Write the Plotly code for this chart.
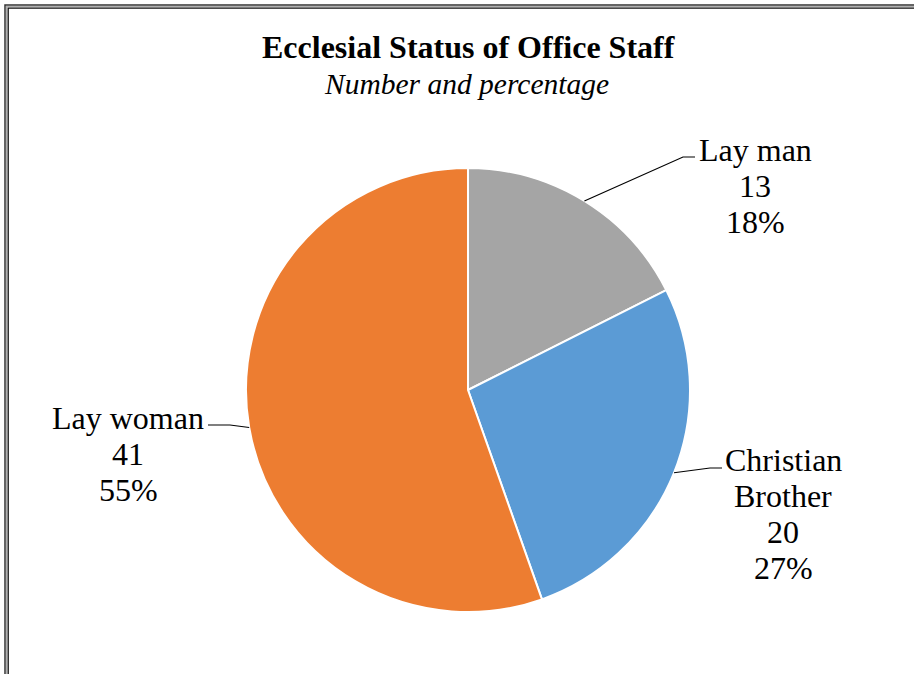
import math
import plotly.graph_objects as go

# ---- data ----
categories = ["Lay man", "Christian Brother", "Lay woman"]
counts = [13, 20, 41]
colors = ["#A5A5A5", "#5B9BD5", "#ED7D31"]
title_text = "Ecclesial Status of Office Staff"
subtitle_text = "Number and percentage"

W, H = 914, 674
CX, CY, R = 468, 390, 222  # pie centre / radius in pixels


def px(x):
    return x / W


def py(y):
    return 1 - y / H


fig = go.Figure()
fig.add_trace(go.Pie(
    labels=categories,
    values=counts,
    sort=False,
    direction="clockwise",
    rotation=0,
    marker=dict(colors=colors, line=dict(color="white", width=2)),
    textinfo="none",
    hoverinfo="label+value+percent",
    showlegend=False,
    domain=dict(x=[px(CX - R), px(CX + R)], y=[py(CY + R), py(CY - R)]),
))

total = sum(counts)
# label layout: (centre x of text, centre y of first line, elbow point, line end point)
label_layout = {
    "Lay man": dict(tx=755, ty=150, lines=["Lay man"], elbow=(683, 157), end=(695, 157)),
    "Christian Brother": dict(tx=783, ty=460, lines=["Christian", "Brother"], elbow=(710, 468), end=(722, 468)),
    "Lay woman": dict(tx=128, ty=418, lines=["Lay woman"], elbow=(230, 425), end=(208, 425)),
}
LINE_SP = 36
FONT = "Liberation Serif, Times New Roman, serif"

annotations = []
shapes = []
cum = 0
for cat, v in zip(categories, counts):
    mid = (cum + v / 2) / total * 2 * math.pi
    cum += v
    sx = CX + R * math.sin(mid)
    sy = CY - R * math.cos(mid)
    L = label_layout[cat]
    pct = round(v / total * 100)
    lines = L["lines"] + [str(v), f"{pct}%"]
    for i, t in enumerate(lines):
        annotations.append(dict(
            x=px(L["tx"]), y=py(L["ty"] + i * LINE_SP), xref="paper", yref="paper",
            text=t, showarrow=False, xanchor="center", yanchor="middle",
            font=dict(family=FONT, size=32, color="black"),
        ))
    ex, ey = L["elbow"]
    nx, ny = L["end"]
    shapes.append(dict(
        type="path", xref="paper", yref="paper",
        path=f"M {px(sx)} {py(sy)} L {px(ex)} {py(ey)} L {px(nx)} {py(ny)}",
        line=dict(color="black", width=1.2),
    ))

annotations.append(dict(
    x=px(468), y=py(47), xref="paper", yref="paper", text=f"<b>{title_text}</b>",
    showarrow=False, xanchor="center", yanchor="middle",
    font=dict(family=FONT, size=32, color="black"),
))
annotations.append(dict(
    x=px(467), y=py(84), xref="paper", yref="paper", text=f"<i>{subtitle_text}</i>",
    showarrow=False, xanchor="center", yanchor="middle",
    font=dict(family=FONT, size=29.5, color="black"),
))

# chart frame (double border)
shapes += [
    dict(type="rect", xref="paper", yref="paper", x0=px(5), y0=py(720), x1=px(960), y1=py(5),
         line=dict(color="#333333", width=1.5)),
    dict(type="rect", xref="paper", yref="paper", x0=px(6.6), y0=py(720), x1=px(960), y1=py(6.6),
         line=dict(color="#b0b0b0", width=1.2)),
    dict(type="rect", xref="paper", yref="paper", x0=px(8.2), y0=py(720), x1=px(960), y1=py(8.2),
         line=dict(color="#111111", width=1.3)),
]

fig.update_layout(
    width=W, height=H,
    margin=dict(l=0, r=0, t=0, b=0),
    paper_bgcolor="white", plot_bgcolor="white",
    annotations=annotations, shapes=shapes,
)

fig.write_html("out.html", config={"displayModeBar": False},
               post_script="document.body.style.margin='0';")
